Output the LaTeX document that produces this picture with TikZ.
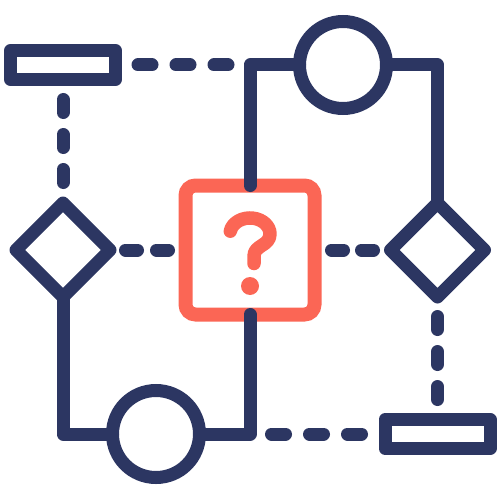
\documentclass[tikz,border=0pt]{standalone}
\usepackage{tikz}
\usetikzlibrary{positioning}
\usetikzlibrary{shapes.geometric}
\definecolor{navy}{RGB}{44,54,98}
\definecolor{coral}{RGB}{251,102,85}
\tikzset{
    wire/.style = {draw=navy, line width=13pt, line cap=round, line join=round},
    dashwire/.style = {wire, dash pattern=#1},
    termbox/.style = {rectangle, draw=navy, line width=13pt, line join=round, minimum width=105pt, minimum height=29pt, inner sep=0pt, outer sep=0pt},
    joint/.style = {circle, draw=navy, line width=13pt, minimum size=87pt, inner sep=0pt, outer sep=0pt},
    choice/.style = {diamond, draw=navy, line width=13pt, line join=round, minimum size=94pt, inner sep=0pt, outer sep=0pt},
    query/.style = {rectangle, rounded corners=10pt, draw=coral, line width=14pt, minimum size=129pt, inner sep=0pt, outer sep=0pt},
    qmark/.style = {draw=coral, line width=13.5pt, line cap=round, line join=round}}
\begin{document}
\begin{tikzpicture}[x=1pt,y=-1pt]
    \useasboundingbox (0,0) rectangle (500,500);
    \path (63,65) node[termbox] (boxTL) {}
        + (280,0) node[joint] (circT) {}
        ++ (0,185) node[choice] (diaL) {}
        + (93,184) node[joint] (circB) {}
        ++ (187,0) node[query] (qbox) {}
        ++ (187.5,0) node[choice] (diaR) {}
        ++ (0,184) node[termbox] (boxBR) {};
    % solid paths
    \draw[wire] (circT.west) -| (qbox.north);
    \draw[wire] (circT.east) -| (diaR.north);
    \draw[wire] (diaL.south) |- (circB.west);
    \draw[wire] (circB.east) -| (qbox.south);
    % dashed paths
    \draw[dashwire={on 14pt off 24pt}, shorten <=22.5pt, shorten >=21.5pt] (boxTL.east) -- (circT.west -| qbox.north);
    \draw[dashwire={on 13pt off 22pt}, shorten <=20pt, shorten >=20.5pt] (boxTL.south) -- (diaL.north);
    \draw[dashwire={on 12pt off 19pt}, shorten <=15.5pt, shorten >=16pt] (diaL.east) -- (qbox.west);
    \draw[dashwire={on 12pt off 18pt}, shorten <=17pt, shorten >=16pt] (qbox.east) -- (diaR.west);
    \draw[dashwire={on 13pt off 22pt}, shorten <=19.5pt, shorten >=20pt] (diaR.south) -- (boxBR.north);
    \draw[dashwire={on 14pt off 24pt}, shorten <=21.5pt, shorten >=23pt] (circB.east -| qbox.south) -- (boxBR.west);
    % question mark
    \draw[qmark] (230.3,231.2) arc[start angle=190, end angle=360, x radius=20, y radius=16]
        .. controls (270,246) and (254,245) .. (254,256) -- (254,263.5);
    \fill[coral] (250,286) circle (9);
\end{tikzpicture}
\end{document}
